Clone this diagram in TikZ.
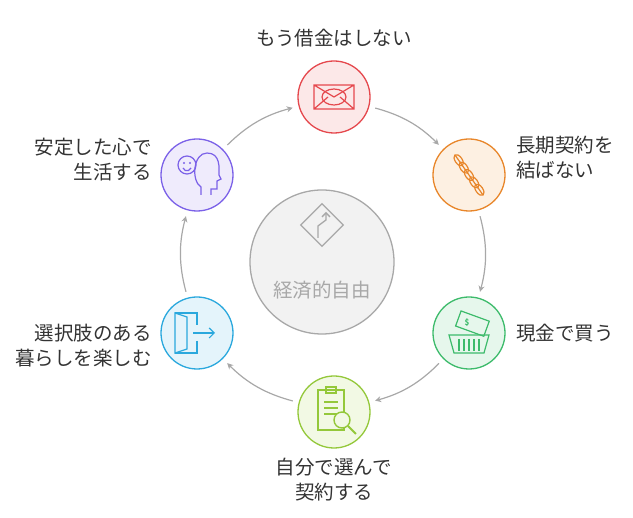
\documentclass[tikz,border=0pt]{standalone}
\usepackage{fontspec}
\setmainfont{Noto Sans CJK JP}
\usetikzlibrary{arrows.meta, positioning}
\definecolor{redline}{HTML}{E5484D}\definecolor{redfill}{HTML}{FCE8E8}
\definecolor{orline}{HTML}{E8862A}\definecolor{orfill}{HTML}{FDF0E2}
\definecolor{grline}{HTML}{3DBB6B}\definecolor{grfill}{HTML}{E6F7EC}
\definecolor{ylline}{HTML}{94C83A}\definecolor{ylfill}{HTML}{F2F9E4}
\definecolor{cyline}{HTML}{2AA8DD}\definecolor{cyfill}{HTML}{E4F4FB}
\definecolor{puline}{HTML}{7B61E8}\definecolor{pufill}{HTML}{EFEBFC}
\definecolor{hubline}{HTML}{A8A8A8}\definecolor{hubfill}{HTML}{F2F2F2}
\definecolor{txt}{HTML}{333333}
\tikzset{
    stepnode/.style={circle, draw, line width=1.3pt, minimum size=72pt, inner sep=0pt},
    hub/.style={circle, draw=hubline, fill=hubfill, line width=1.3pt, minimum size=144pt},
    label/.style={font=\fontsize{19.5}{25}\selectfont, text=txt, align=center, inner sep=0pt},
    flow/.style={-{Stealth[length=6pt,width=6pt]}, line width=1.2pt, hubline, shorten <=6pt, shorten >=6pt}
}
\begin{document}
\begin{tikzpicture}[x=1pt, y=-1pt]
    \useasboundingbox (0,0) rectangle (633,518);
    \node[hub] (hub) at (322,262) {};
    \node[stepnode, draw=redline, fill=redfill] (debt) at (334,97) {};
    \node[stepnode, draw=orline, fill=orfill] (chain) at (469,175) {};
    \node[stepnode, draw=grline, fill=grfill] (cash) at (469,333) {};
    \node[stepnode, draw=ylline, fill=ylfill] (choose) at (334,412) {};
    \node[stepnode, draw=cyline, fill=cyfill] (door) at (197,333) {};
    \node[stepnode, draw=puline, fill=pufill] (mind) at (197,175) {};

    \draw[flow] (debt) to[bend left=15] (chain);
    \draw[flow] (chain) to[bend left=15] (cash);
    \draw[flow] (cash) to[bend left=15] (choose);
    \draw[flow] (choose) to[bend left=15] (door);
    \draw[flow] (door) to[bend left=15] (mind);
    \draw[flow] (mind) to[bend left=15] (debt);

    % icons
    \draw[redline, line width=1.2pt] ([shift={(-20,-12)}]debt.center) rectangle ([shift={(20,12)}]debt.center)
        ([shift={(-20,-12)}]debt.center) -- (debt.center) -- ([shift={(20,-12)}]debt.center)
        ([shift={(-20,12)}]debt.center) -- ([shift={(-6,0)}]debt.center)
        ([shift={(20,12)}]debt.center) -- ([shift={(6,0)}]debt.center);
    \draw[redline, line width=1.2pt] (debt.center) ellipse (12pt and 8pt);
    \begin{scope}[shift={(469,175)}, rotate=-55]
        \foreach \i in {-2,...,2}
            \draw[orline, line width=1.2pt] (\i*9,0) ellipse (6.5pt and 3.5pt);
        \draw[orline, line width=1.2pt] (-24,0) -- (24,0);
    \end{scope}
    \draw[grline, line width=1.2pt, rotate around={-20:(cash.center)}] ([shift={(-15,-18)}]cash.center) rectangle ([shift={(15,-2)}]cash.center);
    \node[grline, font=\footnotesize\bfseries] (dollar) at ([shift={(-2,-10)}]cash.center) {\$};
    \draw[grline, line width=1.2pt] ([shift={(-20,2)}]cash.center) -- ([shift={(20,2)}]cash.center) -- ([shift={(15,20)}]cash.center) -- ([shift={(-15,20)}]cash.center) -- cycle;
    \foreach \i in {-10,-5,...,10}
        \draw[grline, line width=1.2pt] ([shift={(\i,6)}]cash.center) -- ([shift={(\i,18)}]cash.center);
    \draw[ylline, line width=1.2pt] ([shift={(-16,-22)}]choose.center) rectangle ([shift={(10,18)}]choose.center);
    \draw[ylline, line width=1.2pt] ([shift={(-8,-25)}]choose.center) rectangle ([shift={(2,-19)}]choose.center);
    \foreach \i in {-10,-4,2}
        \draw[ylline, line width=1.2pt] ([shift={(-10,\i)}]choose.center) -- ([shift={(4,\i)}]choose.center);
    \draw[ylline, line width=1.4pt, fill=ylfill] ([shift={(8,8)}]choose.center) circle (8pt);
    \draw[ylline, line width=1.8pt] ([shift={(14,14)}]choose.center) -- ([shift={(22,22)}]choose.center);
    \draw[cyline, line width=1.2pt] ([shift={(-22,-20)}]door.center) -- ([shift={(-22,20)}]door.center) -- ([shift={(-10,16)}]door.center) -- ([shift={(-10,-16)}]door.center) -- cycle;
    \draw[cyline, line width=1.2pt] ([shift={(-22,-20)}]door.center) -- ([shift={(0,-20)}]door.center) -- ([shift={(0,-8)}]door.center)
        ([shift={(0,8)}]door.center) -- ([shift={(0,20)}]door.center) -- ([shift={(-22,20)}]door.center);
    \draw[cyline, line width=1.2pt, -{Straight Barb[length=5pt]}] ([shift={(-4,0)}]door.center) -- ([shift={(18,0)}]door.center);
    \draw[puline, line width=1.2pt] ([shift={(-10,-10)}]mind.center) circle (9pt);
    \fill[puline] ([shift={(-13,-12)}]mind.center) circle (1.2pt) ([shift={(-7,-12)}]mind.center) circle (1.2pt);
    \draw[puline, line width=1.2pt] ([shift={(-14,-7)}]mind.center) arc (200:340:4.3pt);
    \draw[puline, line width=1.2pt] ([shift={(4,20)}]mind.center) -- ([shift={(4,12)}]mind.center)
        .. controls ([shift={(-6,6)}]mind.center) and ([shift={(-4,-22)}]mind.center) .. ([shift={(10,-22)}]mind.center)
        .. controls ([shift={(24,-22)}]mind.center) and ([shift={(22,-6)}]mind.center) .. ([shift={(22,0)}]mind.center)
        -- ([shift={(24,4)}]mind.center) -- ([shift={(20,6)}]mind.center) -- ([shift={(20,14)}]mind.center) -- ([shift={(14,14)}]mind.center) -- ([shift={(14,20)}]mind.center);
    \draw[hubline, line width=1.3pt, rotate around={45:(322,225)}] ([shift={(-15,-15)}]322,225) rectangle ([shift={(15,15)}]322,225);
    \draw[hubline, line width=1.3pt, -{Straight Barb[length=4pt]}] (318,238) -- (318,226) -- (326,220) -- (326,212);

    % labels
    \node[label, text=hubline] (hubtext) at (322,290) {経済的自由};
    \node[label] (debttext) at (334,38) {もう借金はしない};
    \node[label, align=left, anchor=west] (chaintext) at (516,158) {長期契約を\\結ばない};
    \node[label, anchor=west] (cashtext) at (516,333) {現金で買う};
    \node[label] (choosetext) at (334,480) {自分で選んで\\契約する};
    \node[label, align=right, anchor=east] (doortext) at (152,346) {選択肢のある\\暮らしを楽しむ};
    \node[label, align=right, anchor=east] (mindtext) at (152,160) {安定した心で\\生活する};
\end{tikzpicture}
\end{document}
